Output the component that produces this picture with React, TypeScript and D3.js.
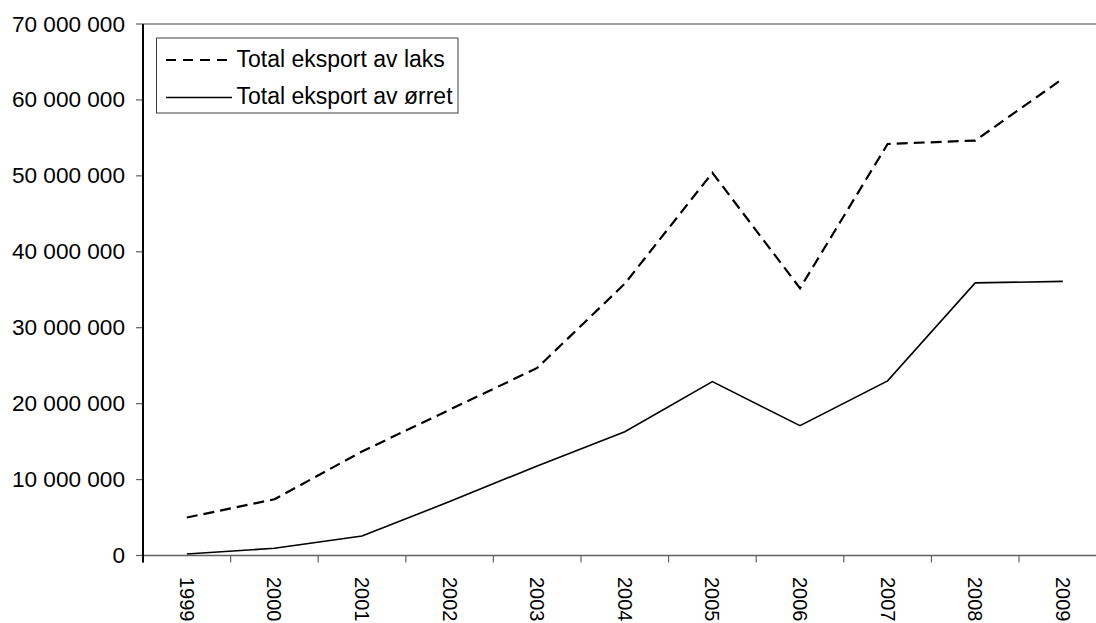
import React from "react";
import * as d3 from "d3";

const years = ["1999", "2000", "2001", "2002", "2003", "2004", "2005", "2006", "2007", "2008", "2009"];
const laks = [5.0e6, 7.4e6, 13.7e6, 19.2e6, 24.7e6, 35.8e6, 50.4e6, 35.2e6, 54.2e6, 54.65e6, 62.8e6];
const orret = [0.2e6, 0.95e6, 2.57e6, 7.1e6, 11.8e6, 16.3e6, 22.9e6, 17.1e6, 23.0e6, 35.9e6, 36.1e6];
const yTicks = [0, 10e6, 20e6, 30e6, 40e6, 50e6, 60e6, 70e6];
const seriesNames = ["Total eksport av laks", "Total eksport av ørret"];

const W = 1096;
const H = 623;
const left = 143;
const step = 87.6;
const right = left + step * years.length;
const top = 24;
const bottom = 555.5;
const font = "'Liberation Sans', Arial, sans-serif";
const fs = 22.6;
const fsX = 20;
const fsLegend = 23;

export default function App() {
  const x = d3.scaleBand<string>().domain(years).range([left, right]).paddingInner(0).paddingOuter(0);
  const y = d3.scaleLinear().domain([0, 70e6]).range([bottom, top]);
  const cx = (d: string) => (x(d) as number) + x.bandwidth() / 2;
  const line = d3
    .line<number>()
    .x((_, i) => cx(years[i]))
    .y((v) => y(v));
  const fmt = (v: number) => d3.format(",")(v).replace(/,/g, " ");

  return (
    <svg width={W} height={H} style={{ position: "absolute", left: 0, top: 0, background: "#fff" }} fontFamily={font}>
      {/* top line */}
      <line x1={left} x2={W} y1={y(70e6)} y2={y(70e6)} stroke="#808080" strokeWidth={1.5} />
      {/* bottom axis */}
      <line x1={left} x2={W} y1={bottom} y2={bottom} stroke="#606060" strokeWidth={1.5} />
      {years.map((d, i) => (
        <line key={"xt" + i} x1={x(d) as number} x2={x(d) as number} y1={bottom} y2={bottom + 7} stroke="#606060" strokeWidth={1.2} />
      ))}
      {years.map((d, i) => (
        <text
          key={"xl" + i}
          transform={`translate(${cx(d)},${bottom + 21.5}) rotate(90)`}
          fontSize={fsX}
          dominantBaseline="central"
          textAnchor="start"
          fill="#000"
        >
          {d}
        </text>
      ))}
      {/* y ticks */}
      {yTicks.map((t, i) => (
        <g key={"yt" + i}>
          <line x1={left - 7} x2={left} y1={y(t)} y2={y(t)} stroke="#606060" strokeWidth={1.2} />
          <text x={125} y={y(t)} fontSize={fs} textAnchor="end" dominantBaseline="central" fill="#000">
            {fmt(t)}
          </text>
        </g>
      ))}
      {/* left axis */}
      <line x1={left} x2={left} y1={top} y2={bottom + 7} stroke="#000" strokeWidth={2} />
      {/* series */}
      <path d={line(laks) || ""} fill="none" stroke="#000" strokeWidth={2.2} strokeDasharray="11,6" />
      <path d={line(orret) || ""} fill="none" stroke="#000" strokeWidth={1.6} />
      {/* legend */}
      <rect x={156.5} y={38} width={301.5} height={75} fill="#fff" stroke="#404040" strokeWidth={1} />
      <line x1={166} x2={232} y1={60} y2={60} stroke="#000" strokeWidth={2.2} strokeDasharray="10,7" />
      <line x1={166} x2={232} y1={97.5} y2={97.5} stroke="#000" strokeWidth={1.6} />
      <text x={236.5} y={59} fontSize={fsLegend} dominantBaseline="central" fill="#000">
        {seriesNames[0]}
      </text>
      <text x={236.5} y={96} fontSize={fsLegend} dominantBaseline="central" fill="#000">
        {seriesNames[1]}
      </text>
    </svg>
  );
}
